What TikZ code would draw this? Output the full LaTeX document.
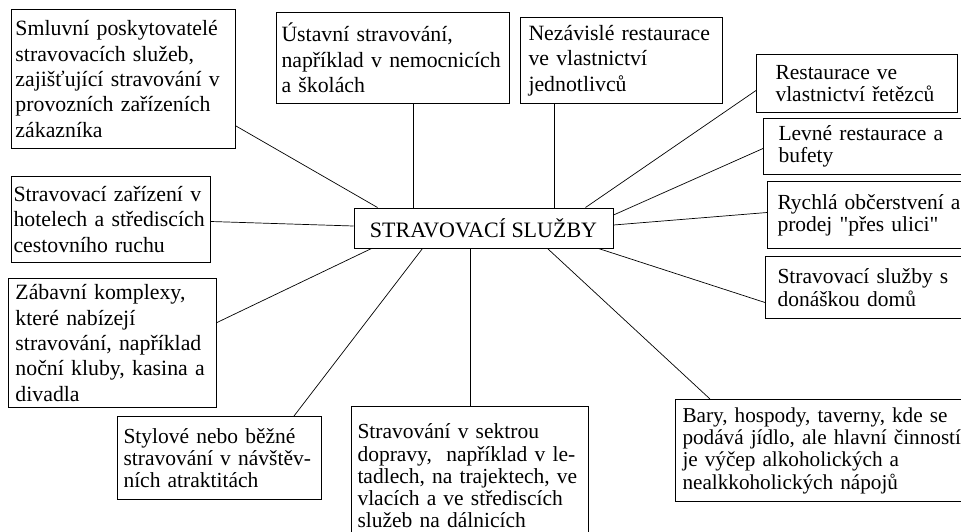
\documentclass[tikz,border=0pt]{standalone}
\usepackage{fontspec}
\setmainfont{Liberation Serif}
\usetikzlibrary{calc}
\hyphenpenalty=10000

\begin{document}
\begin{tikzpicture}[x=1pt,y=-1pt,
      box/.style={draw,line width=1pt,anchor=north west,align=left,inner ysep=0pt},
      wide/.style={font=\fontsize{21.8}{25.3}\selectfont},
      tight/.style={font=\fontsize{21.5}{22.3}\selectfont},
      link/.style={line width=0.7pt}]
    \useasboundingbox (0,0) rectangle (961,531);
    \node[draw,line width=1pt,font=\fontsize{22}{25}\selectfont,minimum width=259pt,minimum height=40pt,inner sep=0pt] (hub) at (483.5,228) {STRAVOVACÍ SLUŽBY};
    \node[box,wide,text width=216pt,inner xsep=4pt,minimum height=139pt] (smluv) at (11,9) {Smluvní poskytovatelé\\stravovacích služeb,\\zajišťující stravování v\\provozních zařízeních\\zákazníka};
    \node[box,wide,text width=223pt,inner xsep=5pt,minimum height=91pt] (ustav) at (276,12) {Ústavní stravování,\\například v nemocnicích\\a školách};
    \node[box,wide,text width=186pt,inner xsep=8pt,minimum height=86pt] (nezav) at (520,17) {Nezávislé restaurace\\ve vlastnictví\\jednotlivců};
    \node[box,tight,text width=163pt,inner xsep=19pt,minimum height=58pt] (retez) at (756,54) {Restaurace ve\\vlastnictví řetězců};
    \node[box,tight,text width=187pt,inner xsep=15pt,minimum height=56pt] (levne) at (763,118) {Levné restaurace a\\bufety};
    \node[box,tight,text width=195pt,inner xsep=10pt,minimum height=67pt] (rychla) at (767,181) {Rychlá občerstvení a\\prodej \textquotedbl přes ulici\textquotedbl};
    \node[box,tight,text width=191pt,inner xsep=12pt,minimum height=62pt] (donas) at (765,256) {Stravovací služby s\\donáškou domů};
    \node[box,tight,font=\fontsize{21.2}{22.3}\selectfont,text width=291pt,inner xsep=7pt,minimum height=102pt] (bary) at (675,399) {Bary, hospody, taverny, kde se\\podává jídlo, ale hlavní činností\\je výčep alkoholických a\\nealkkoholických nápojů};
    \node[box,tight,text width=225pt,inner xsep=6pt,minimum height=139pt] (sektr) at (351,406) {Stravování v sektrou\\dopravy,\ \ například v le-\\tadlech, na trajektech, ve\\vlacích a ve střediscích\\služeb na dálnicích};
    \node[box,tight,text width=192pt,inner xsep=6pt,minimum height=83pt] (stylov) at (117,416) {Stylové nebo běžné\\stravování v návštěv-\\ních atraktitách};
    \node[box,wide,text width=194pt,inner xsep=7pt,minimum height=129pt] (zabav) at (8,278) {Zábavní komplexy,\\které nabízejí\\stravování, například\\noční kluby, kasina a\\divadla};
    \node[box,wide,text width=195pt,inner xsep=2pt,minimum height=86pt] (hotel) at (11,176) {Stravovací zařízení v\\hotelech a střediscích\\cestovního ruchu};
    \draw[link] ([yshift=23pt]smluv.south east) -- ([xshift=24pt]hub.north west);
    \draw[link] ([xshift=20.5pt]ustav.south) -- ([xshift=20.5pt]ustav.south |- hub.north);
    \draw[link] ([xshift=-67pt]nezav.south) -- ([xshift=-67pt]nezav.south |- hub.north);
    \draw[link] ([yshift=-7pt]retez.west) -- ([xshift=-28pt]hub.north east);
    \draw[link] ([yshift=-2pt]levne.west) -- ([yshift=13pt]hub.east);
    \draw[link] ([yshift=2.5pt]rychla.west) -- ([yshift=3pt]hub.east);
    \draw[link] ([yshift=-15pt]donas.west) -- ([xshift=-15pt]hub.south east);
    \draw[link] ([xshift=35pt]bary.north west) -- ([xshift=-66pt]hub.south east);
    \draw[link] (sektr.north) -- (sektr.north |- hub.south);
    \draw[link] ([xshift=-28pt]stylov.north east) -- ([xshift=69pt]hub.south west);
    \draw[link] ([yshift=20.5pt]zabav.east) -- ([xshift=18pt]hub.south west);
    \draw[link] ([yshift=-2pt]hotel.east) -- ([yshift=2pt]hub.west);
  \end{tikzpicture}
\end{document}
